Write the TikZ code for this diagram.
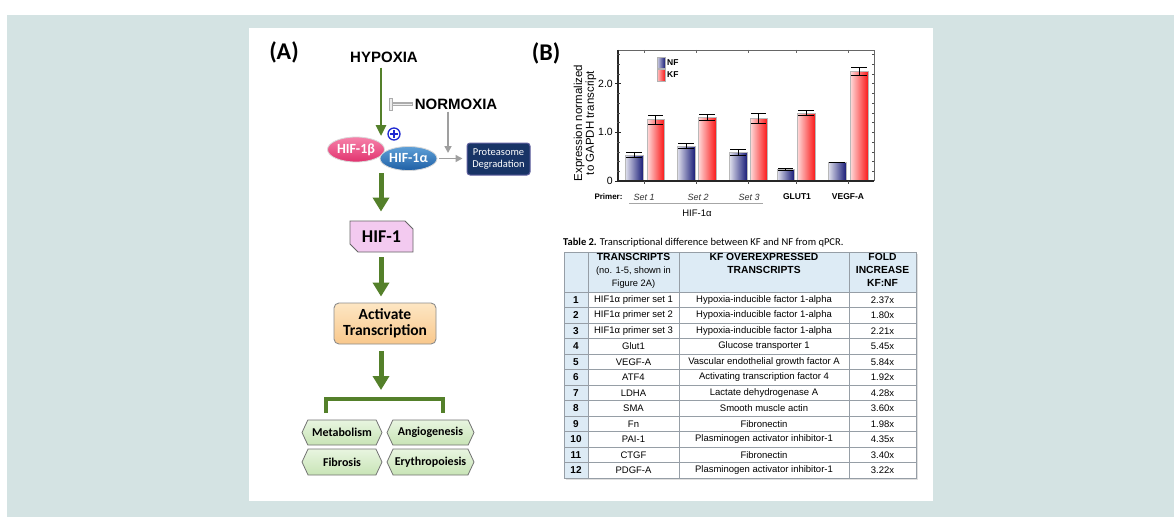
\documentclass[tikz,border=0pt]{standalone}
\usepackage{fontspec}
\setmainfont{Liberation Sans}
\newfontfamily\calfont{Carlito}
\usetikzlibrary{shapes.misc,shapes.symbols,shapes.geometric,arrows.meta,calc}
\definecolor{bgteal}{RGB}{212,227,227}
\definecolor{arrgreen}{RGB}{84,128,42}
\definecolor{pinkA}{RGB}{246,130,170}
\definecolor{pinkB}{RGB}{225,50,110}
\definecolor{blueA}{RGB}{95,160,215}
\definecolor{blueB}{RGB}{30,95,165}
\definecolor{navybox}{RGB}{24,52,102}
\definecolor{hifpink}{RGB}{243,202,240}
\definecolor{peachA}{RGB}{253,230,195}
\definecolor{peachB}{RGB}{249,200,140}
\definecolor{hexA}{RGB}{232,245,224}
\definecolor{hexB}{RGB}{200,228,182}
\definecolor{plusblue}{RGB}{30,40,210}
\definecolor{nfblue}{RGB}{25,28,120}
\definecolor{kfred}{RGB}{250,25,25}
\definecolor{tblue}{RGB}{221,235,245}
\definecolor{tline}{RGB}{150,158,166}
\begin{document}
\begin{tikzpicture}[x=1pt,y=-1pt,
  bigtxt/.style={font=\fontsize{15}{18}\selectfont\bfseries, inner sep=0pt},
  garrow/.style={draw=arrgreen, line width=2.6pt, -{Triangle[width=10pt,length=11pt]}},
  gthick/.style={draw=arrgreen, line width=5pt, -{Triangle[width=16pt,length=14pt]}},
  grayarrow/.style={draw=gray!75, line width=1.6pt, -{Triangle[width=7pt,length=7pt]}},
  ellnode/.style={ellipse, draw=white!70!gray, line width=0.8pt, minimum width=57pt, minimum height=25pt, inner sep=0pt, text=white, font=\calfont\bfseries\fontsize{14}{16}\selectfont},
  hexbox/.style={signal, signal to=west and east, signal pointer angle=130, top color=hexA, bottom color=hexB, draw=black!55, line width=0.8pt, minimum height=25pt, inner sep=0pt, font=\calfont\bfseries\fontsize{12}{14}\selectfont},
  tcell/.style={inner sep=0pt, font=\fontsize{9.5}{11}\selectfont},
  thead/.style={inner sep=0pt, align=center, font=\fontsize{10.3}{13}\selectfont},
  ticklab/.style={inner sep=0pt, font=\fontsize{10.5}{12}\selectfont},
  xlab/.style={inner sep=0pt, font=\fontsize{8.5}{10}\selectfont\bfseries},
  setlab/.style={inner sep=0pt, font=\fontsize{9}{10}\selectfont\itshape, text=black!80}
]
\useasboundingbox (0,0) rectangle (1174,517);
\fill[white] (0,0) rectangle (1174,517);
\fill[bgteal] (7,15) rectangle (1174,517);
\fill[white] (249,28) rectangle (933,501);

% ---------------- Panel A ----------------
\node[inner sep=0pt, font=\calfont\bfseries\fontsize{24}{26}\selectfont] (labA) at (284,52) {(A)};
\node[bigtxt] (hypoxia) at (384,57) {HYPOXIA};
\node[bigtxt] (normoxia) at (456,104) {NORMOXIA};

\node[ellnode, top color=pinkA, bottom color=pinkB] (hifb) at (356,149.5) {HIF-1β};
\node[ellnode, top color=blueA, bottom color=blueB, minimum height=24pt] (hifa) at (408.5,158.5) {HIF-1α};
\node[circle, draw=plusblue, line width=1.3pt, minimum size=12pt, inner sep=0pt, fill=white] (plus) at (394,134) {};
\draw[plusblue, line width=1.5pt] ([xshift=-3.6pt]plus.center) -- ([xshift=3.6pt]plus.center);
\draw[plusblue, line width=1.5pt] ([yshift=-3.6pt]plus.center) -- ([yshift=3.6pt]plus.center);

\node[rounded corners=3pt, fill=navybox, draw=blue!25!gray, line width=1pt, minimum width=63pt, minimum height=32pt, inner sep=0pt, align=center, text=white, font=\calfont\fontsize{10.5}{12}\selectfont] (prot) at (498.5,159) {Proteasome\\Degradation};

\coordinate (hytip) at (381,136);
\draw[garrow] ([yshift=-5pt]hypoxia.south -| hytip) -- (hytip);

\coordinate (inhbar) at (391,104);
\draw[draw=gray!65, line width=3.2pt] ([xshift=-2pt]normoxia.west) -- (inhbar);
\draw[draw=gray!12, line width=1pt] ([xshift=-2.5pt]normoxia.west) -- ([xshift=1pt]inhbar);
\draw[draw=gray!65, fill=gray!15, line width=0.8pt] ([xshift=-2pt,yshift=6pt]inhbar) rectangle ([xshift=1pt,yshift=-6pt]inhbar);

\coordinate (ndn) at (448,153);
\draw[grayarrow] ([yshift=-2pt]normoxia.south -| ndn) -- (ndn);
\draw[grayarrow] ([xshift=1.5pt]hifa.east) -- ([xshift=-4pt]prot.west |- hifa.east);

\node[chamfered rectangle, chamfered rectangle corners={north east,south west}, chamfered rectangle xsep=4pt, chamfered rectangle ysep=4pt, fill=hifpink, draw=black!60, line width=0.9pt, minimum width=63pt, minimum height=31pt, inner sep=0pt, font=\calfont\bfseries\fontsize{18}{20}\selectfont] (hif1) at (381.5,236.5) {HIF-1};

\node[rounded corners=5pt, top color=peachA, bottom color=peachB, draw=black!45, line width=0.9pt, minimum width=102pt, minimum height=41pt, inner sep=0pt, align=center, font=\calfont\bfseries\fontsize{15.5}{16}\selectfont] (act) at (385,323.5) {Activate\\Transcription};

\coordinate (cplx) at (381,173);
\draw[gthick] (cplx) -- ([yshift=9pt]hif1.north -| cplx);
\draw[gthick] ([yshift=-5pt]hif1.south -| cplx) -- ([yshift=6pt]act.north -| cplx);
\coordinate (brk) at (381,399);
\draw[gthick] ([yshift=-7pt]act.south -| cplx) -- ([yshift=9pt]brk);

\node[hexbox, minimum width=80pt] (met) at (342,432.5) {Metabolism};
\node[hexbox, minimum width=87pt] (ang) at (430.5,432.5) {Angiogenesis};
\node[hexbox, minimum width=80pt, minimum height=26pt] (fib) at (342,462) {Fibrosis};
\node[hexbox, minimum width=87pt, minimum height=26pt] (ery) at (430.5,462) {Erythropoiesis};

\coordinate (legL) at (326,413);
\coordinate (legR) at (443,413);
\draw[draw=arrgreen, line width=4.5pt] (legL) |- (brk) -| (legR);

% ---------------- Panel B ----------------
\node[inner sep=0pt, font=\calfont\bfseries\fontsize{24}{26}\selectfont] (labB) at (546,53) {(B)};

\begin{scope}[shift={(618,181)}, y=48.7pt]
  \foreach \xl/\xr/\v/\e/\t in {7/25/0.53/0.05/n, 29/46/1.26/0.095/k, 59/77/0.71/0.05/n, 80/98/1.30/0.06/k, 111/129/0.58/0.065/n, 132/149/1.28/0.10/k, 159/176/0.24/0.015/n, 179/197/1.39/0.055/k, 210/228/0.38/0.01/n, 232/250/2.245/0.085/k}{
    \if\t n
      \shade[left color=nfblue!12, middle color=nfblue!85, right color=nfblue] (\xl,0) rectangle (\xr,\v);
    \else
      \shade[left color=kfred!15, middle color=kfred!92, right color=kfred] (\xl,0) rectangle (\xr,\v);
    \fi
    \draw[gray!55, line width=0.8pt] (\xl,0) rectangle (\xr,\v);
    \pgfmathsetmacro\xm{(\xl+\xr)/2}
    \pgfmathsetmacro\ca{\xl+1}
    \pgfmathsetmacro\cb{\xr-1}
    \draw[black, line width=0.9pt] (\xm,\v-\e) -- (\xm,\v+\e);
    \draw[black, line width=1pt] (\ca,\v+\e) -- (\cb,\v+\e);
    \draw[black, line width=1pt] (\ca,\v-\e) -- (\cb,\v-\e);
  }
  \draw[black!60, line width=0.7pt] (0,2.69) -- (256,2.69) -- (256,0);
  \draw[black!85, line width=1.1pt] (0,2.69) -- (0,0) -- (256,0);
  \foreach \k in {1,...,13}{
    \draw[black!70, line width=0.5pt] (-1.5,\k*0.2) -- (1.5,\k*0.2);
    \draw[black!70, line width=0.5pt] (256,\k*0.2) -- (254,\k*0.2);
  }
  \foreach \k in {0,1,2}{
    \draw[black!85, line width=0.8pt] (-3,\k) -- (3,\k);
  }
  \foreach \xm in {26.5,78.5,130,178,230}{
    \draw[black!70, line width=0.6pt] (\xm,0) -- (\xm,-0.07);
    \draw[black!60, line width=0.5pt] (\xm,2.69) -- (\xm,2.63);
  }
  \node[ticklab, anchor=east] (t2) at (-5,2) {2.0};
  \node[ticklab, anchor=east] (t1) at (-5,1) {1.0};
  \node[ticklab, anchor=east] (t0) at (-5,0) {0};
\end{scope}

\node[inner sep=0pt, rotate=90, align=center, font=\fontsize{11.5}{10}\selectfont] (ylab) at (585,123) {Expression normalized\\to GAPDH transcript};

\shade[left color=nfblue!20, right color=nfblue] (657,57) rectangle (665,68);
\draw[gray!60, line width=0.5pt] (657,57) rectangle (665,68);
\shade[left color=kfred!25, right color=kfred] (657,69.5) rectangle (665,81);
\draw[gray!60, line width=0.5pt] (657,69.5) rectangle (665,81);
\node[inner sep=0pt, anchor=west, font=\fontsize{8.5}{10}\selectfont\bfseries] (lgnf) at (667,62.5) {NF};
\node[inner sep=0pt, anchor=west, font=\fontsize{8.5}{10}\selectfont\bfseries] (lgkf) at (667,75) {KF};

\node[xlab, font=\fontsize{8}{10}\selectfont\bfseries] (primer) at (608.5,197) {Primer:};
\node[setlab] (s1) at (644,197) {Set 1};
\node[setlab] (s2) at (698,197) {Set 2};
\node[setlab] (s3) at (749,197) {Set 3};
\node[xlab] (glut) at (797,197) {GLUT1};
\node[xlab] (vegf) at (848,197) {VEGF-A};
\draw[gray!70, line width=0.8pt] (629,203.5) -- (763,203.5);
\node[inner sep=0pt, font=\fontsize{9.5}{11}\selectfont] (hif1a) at (697,213) {HIF-1α};

% ---------------- Table ----------------
\node[inner sep=0pt, anchor=west, font=\calfont\fontsize{10.5}{12}\selectfont] (tcap) at (563,243) {\textbf{Table 2.} Transcriptional difference between KF and NF from qPCR.};

\fill[black!12] (566,254) rectangle (918,480);
\fill[white] (564,252) rectangle (916,478);
\fill[tblue] (564,252) rectangle (916,292);
\fill[tblue] (564,292) rectangle (588,478);
\foreach \k in {0,...,12}{
  \draw[tline, line width=0.6pt] (564,292+15.5*\k) -- (916,292+15.5*\k);
}
\foreach \xx in {588,679,849}{
  \draw[tline, line width=0.6pt] (\xx,252) -- (\xx,478);
}
\draw[tline, line width=0.9pt] (564,252) rectangle (916,478);

\node[thead, anchor=north] (h1) at (633.5,253.5) {\textbf{TRANSCRIPTS}\\{\fontsize{9.3}{13}\selectfont (no. 1-5, shown in}\\{\fontsize{9.3}{13}\selectfont Figure 2A)}};
\node[thead, anchor=north, font=\fontsize{10.3}{13}\selectfont\bfseries] (h2) at (764,253.5) {KF OVEREXPRESSED\\TRANSCRIPTS};
\node[thead, anchor=north, font=\fontsize{10.3}{13}\selectfont\bfseries] (h3) at (882.5,253.5) {FOLD\\INCREASE\\KF:NF};

\foreach \a/\b/\c [count=\i] in {HIF1α primer set 1/Hypoxia-inducible factor 1-alpha/2.37x,
  HIF1α primer set 2/Hypoxia-inducible factor 1-alpha/1.80x,
  HIF1α primer set 3/Hypoxia-inducible factor 1-alpha/2.21x,
  Glut1/Glucose transporter 1/5.45x,
  VEGF-A/Vascular endothelial growth factor A/5.84x,
  ATF4/Activating transcription factor 4/1.92x,
  LDHA/Lactate dehydrogenase A/4.28x,
  SMA/Smooth muscle actin/3.60x,
  Fn/Fibronectin/1.98x,
  PAI-1/Plasminogen activator inhibitor-1/4.35x,
  CTGF/Fibronectin/3.40x,
  PDGF-A/Plasminogen activator inhibitor-1/3.22x}{
  \pgfmathsetmacro\yc{292+15.5*(\i-0.5)}
  \node[tcell, font=\fontsize{10}{11}\selectfont\bfseries] (rn\i) at (576,\yc) {\i};
  \node[tcell] (ra\i) at (633.5,\yc) {\a};
  \node[tcell] (rb\i) at (764,\yc) {\b};
  \node[tcell] (rc\i) at (882.5,\yc) {\c};
}
\end{tikzpicture}
\end{document}
